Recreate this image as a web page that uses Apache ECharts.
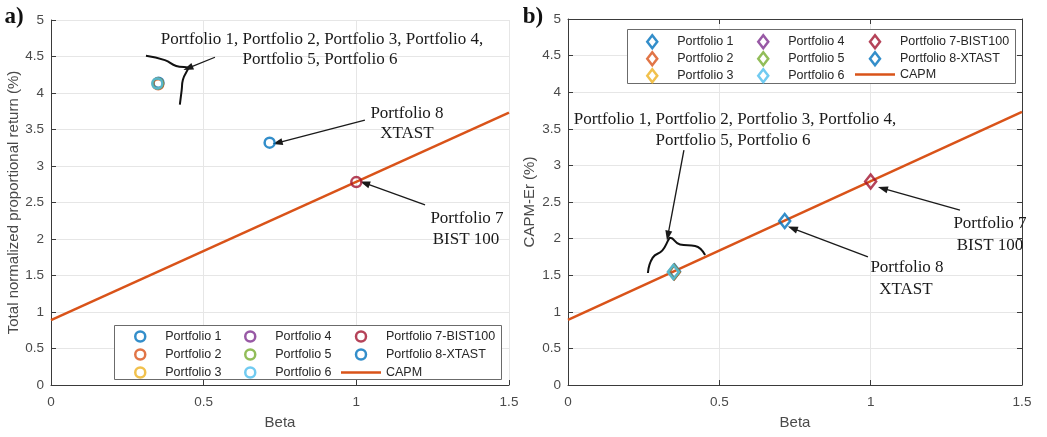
<!DOCTYPE html>
<html>
<head>
<meta charset="utf-8">
<script src="https://cdn.jsdelivr.net/npm/echarts@6/dist/echarts.min.js"></script>
<style>html,body{margin:0;padding:0;background:#fff}#c{width:1047px;height:437px}</style>
</head>
<body>
<div id="c"></div>
<script>
// ---- data ----
const portfolioNames = ['Portfolio 1','Portfolio 2','Portfolio 3','Portfolio 4','Portfolio 5','Portfolio 6','Portfolio 7-BIST100','Portfolio 8-XTAST'];
const portfolioColors = ['#0072BD','#D95319','#EDB120','#7E2F8E','#77AC30','#4DBEEE','#A2142F','#0072BD'];
const beta = [0.352, 0.351, 0.349, 0.350, 0.350, 0.348, 1.000, 0.716];
const totalReturn = [4.14, 4.12, 4.13, 4.13, 4.13, 4.13, 2.78, 3.32];
const capmEr = [1.55, 1.54, 1.545, 1.545, 1.545, 1.545, 2.78, 2.24];
const capmBeta = [0, 1.5];
const capmValue = [0.89, 3.73];
const xTickRange = [0, 1.5, 0.5];   // min, max, interval
const yTickRange = [0, 5, 0.5];

// ---- annotation geometry (data coordinates) ----
const arrowsA = [
  [[0.537, 4.49], [0.449, 4.34]],
  [[1.028, 3.63], [0.742, 3.318]],
  [[1.225, 2.466], [1.028, 2.765]]
];
const arrowsB = [
  [[0.383, 3.21], [0.330, 2.04]],
  [[0.991, 1.749], [0.742, 2.14]],
  [[1.295, 2.39], [1.040, 2.685]]
];
const braceA = [[0.311,4.51],[0.373,4.45],[0.410,4.37],[0.449,4.34],[0.432,4.18],[0.428,4.04],[0.422,3.84]];
const braceB = [[0.264,1.53],[0.280,1.74],[0.312,1.84],[0.333,1.99],[0.337,2.01],[0.370,1.92],[0.420,1.90],[0.453,1.776]];

const FONT = 'Liberation Sans, Arial, sans-serif';
const SERIF = 'Liberation Serif, Times New Roman, serif';
const AX = '#3a3a3a';
const LABEL = '#4a4a4a';
const GRIDC = '#e6e6e6';

function valueAxis(kind, gridIndex, opts) {
  const r = kind === 'x' ? xTickRange : yTickRange;
  return Object.assign({
    type: 'value', gridIndex, min: r[0], max: r[1], interval: r[2],
    axisLine: {show: true, onZero: false, lineStyle: {color: AX, width: 1}},
    axisTick: {show: true, inside: true, length: 5, lineStyle: {color: AX}},
    axisLabel: {color: LABEL, fontSize: 13.5, fontFamily: FONT, margin: kind === 'x' ? 10 : 7,
      formatter: v => String(+v.toFixed(2))},
    splitLine: {show: true, lineStyle: {color: GRIDC, width: 1}},
    nameTextStyle: {color: LABEL, fontSize: 15, fontFamily: FONT}
  }, opts || {});
}

const series = [];
function addPanel(idx, yVals, symbol, symbolSize) {
  portfolioNames.forEach((n, i) => {
    series.push({
      type: 'scatter', name: n, xAxisIndex: idx, yAxisIndex: idx, z: 5,
      symbol, symbolSize,
      itemStyle: {color: 'rgba(255,255,255,0)', borderColor: portfolioColors[i], borderWidth: 2.5},
      data: [[beta[i], yVals[i]]], silent: true
    });
  });
}
function capmSeries(idx, arrows) {
  return {
    type: 'line', name: 'CAPM', xAxisIndex: idx, yAxisIndex: idx, z: 3,
    showSymbol: false, symbol: 'none', silent: true,
    lineStyle: {color: '#D95319', width: 2.5}, itemStyle: {color: '#D95319'},
    data: capmBeta.map((b, i) => [b, capmValue[i]]),
    markLine: {
      silent: true, symbol: ['none', 'triangle'], symbolSize: [7, 10], animation: false,
      label: {show: false},
      lineStyle: {color: '#1a1a1a', width: 1.3, type: 'solid'},
      data: arrows.map(a => [{coord: a[0]}, {coord: a[1]}])
    }
  };
}
function braceSeries(idx, pts) {
  return {
    type: 'line', name: 'brace' + idx, xAxisIndex: idx, yAxisIndex: idx, z: 4,
    smooth: 0.5, showSymbol: false, symbol: 'none', silent: true,
    lineStyle: {color: '#111', width: 2}, data: pts
  };
}

series.push(capmSeries(0, arrowsA));
addPanel(0, totalReturn, 'circle', 10);
series.push(braceSeries(0, braceA));
series.push(capmSeries(1, arrowsB));
addPanel(1, capmEr, 'path://M5,0L10,6.5L5,13L0,6.5Z', [11, 14]);
series.push(braceSeries(1, braceB));

const diamondPath = 'path://M5,0L10,6.5L5,13L0,6.5Z';
const linePath = 'path://M0,0L40,0L40,2.5L0,2.5Z';
function legendCol(names, left, top, icon, h, gap, lh) {
  return {
    orient: 'vertical', left, top, itemWidth: 40, itemHeight: h, itemGap: gap,
    padding: 0, selectedMode: false,
    textStyle: {color: '#262626', fontSize: 12.5, fontFamily: FONT, lineHeight: lh},
    data: names.map(n => {
      if (n === 'CAPM') return {name: n, icon: linePath, itemStyle: {color: '#D95319', borderWidth: 0}};
      const i = portfolioNames.indexOf(n);
      return {name: n, icon, itemStyle: {color: '#fff', borderColor: portfolioColors[i], borderWidth: 2.5}};
    })
  };
}

const legends = [
  legendCol(portfolioNames.slice(0, 3), 134, 330, 'circle', 10, 5, 12),
  legendCol(portfolioNames.slice(3, 6), 244, 330, 'circle', 10, 5, 12),
  legendCol([portfolioNames[6], portfolioNames[7], 'CAPM'], 341, 330, 'circle', 10, 5, 12),
  legendCol(portfolioNames.slice(0, 3), 646, 34, diamondPath, 13, 1.5, 13),
  legendCol(portfolioNames.slice(3, 6), 757, 34, diamondPath, 13, 1.5, 13),
  legendCol([portfolioNames[6], portfolioNames[7], 'CAPM'], 855, 34, diamondPath, 13, 1.5, 13)
];

function txt(x, y, t, extra) {
  return {type: 'text', x, y, z: 10, silent: true,
    style: Object.assign({text: t, fill: '#1a1a1a', font: '17px ' + SERIF, align: 'center', verticalAlign: 'middle'}, extra || {})};
}

const graphic = [
  {type: 'rect', z: 3, silent: true, shape: {x: 114.5, y: 325.5, width: 387, height: 54}, style: {fill: '#fff', stroke: '#6b6b6b', lineWidth: 1}},
  {type: 'rect', z: 3, silent: true, shape: {x: 627.5, y: 29.5, width: 388, height: 54}, style: {fill: '#fff', stroke: '#6b6b6b', lineWidth: 1}},
  txt(14, 17, 'a)', {font: 'bold 23px ' + SERIF, fill: '#111'}),
  txt(533, 17, 'b)', {font: 'bold 23px ' + SERIF, fill: '#111'}),
  txt(322, 40, 'Portfolio 1, Portfolio 2, Portfolio 3, Portfolio 4,'),
  txt(320, 60, 'Portfolio 5, Portfolio 6'),
  txt(407, 114, 'Portfolio 8'),
  txt(407, 134, 'XTAST'),
  txt(467, 219, 'Portfolio 7'),
  txt(466, 240, 'BIST 100'),
  txt(735, 120, 'Portfolio 1, Portfolio 2, Portfolio 3, Portfolio 4,'),
  txt(733, 141, 'Portfolio 5, Portfolio 6'),
  txt(907, 268, 'Portfolio 8'),
  txt(906, 290, 'XTAST'),
  txt(990, 224, 'Portfolio 7'),
  txt(990, 246, 'BIST 100')
];

const option = {
  animation: false,
  backgroundColor: '#fff',
  grid: [
    {left: 51, right: 538, top: 20, bottom: 52, containLabel: false},
    {left: 568, right: 25, top: 19, bottom: 52, containLabel: false}
  ],
  xAxis: [
    valueAxis('x', 0, {name: 'Beta', nameLocation: 'middle', nameGap: 30}),
    valueAxis('x', 1, {name: 'Beta', nameLocation: 'middle', nameGap: 30}),
    valueAxis('x', 1, {position: 'top', axisLabel: {show: false}, splitLine: {show: false}})
  ],
  yAxis: [
    valueAxis('y', 0, {name: 'Total normalized proportional return (%)', nameLocation: 'middle', nameGap: 30}),
    valueAxis('y', 1, {name: 'CAPM-Er (%)', nameLocation: 'middle', nameGap: 31}),
    valueAxis('y', 1, {position: 'right', axisLabel: {show: false}, splitLine: {show: false}})
  ],
  legend: legends,
  series,
  graphic
};

const chart = echarts.init(document.getElementById('c'), null, {renderer: 'canvas'});
chart.setOption(option);
</script>
</body>
</html>
